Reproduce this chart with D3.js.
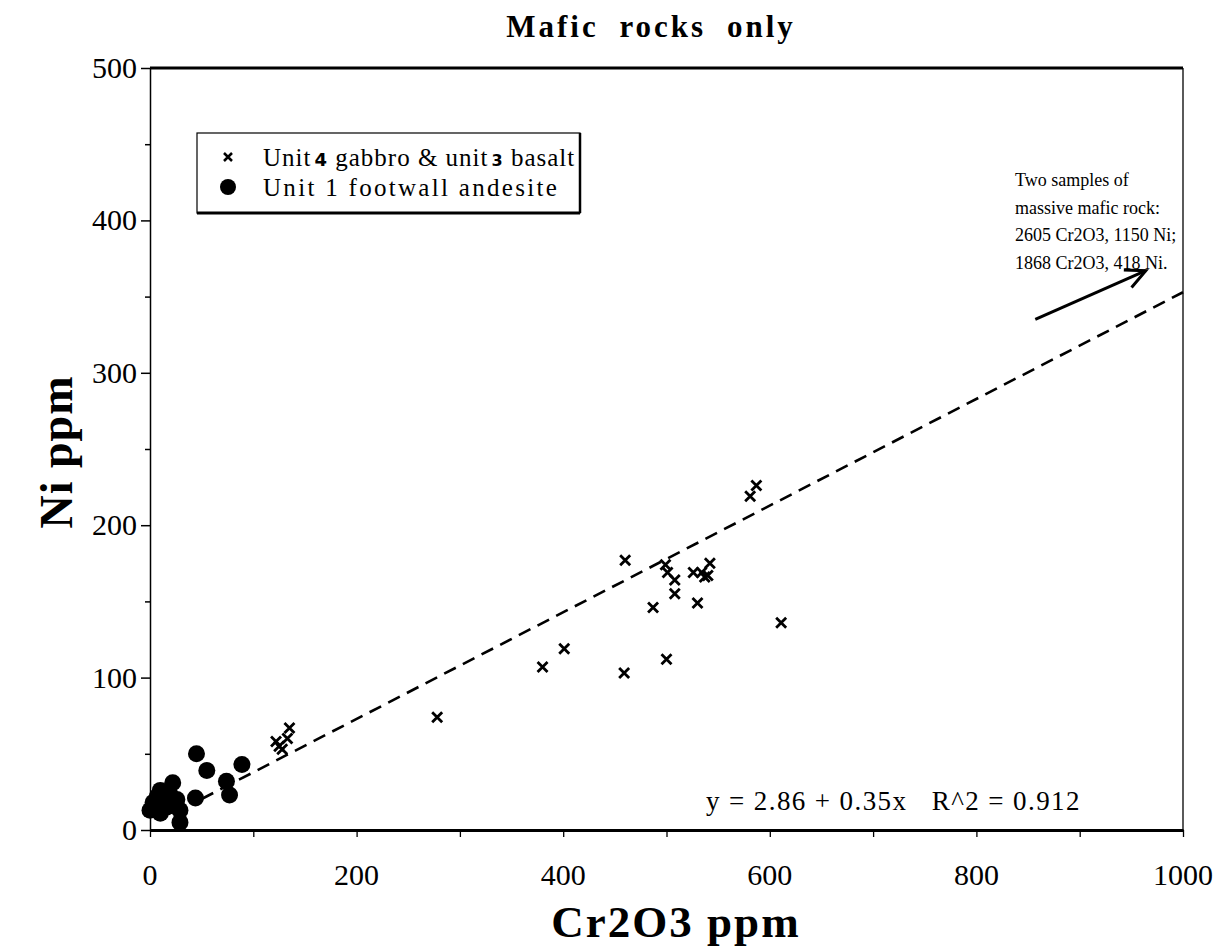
<!DOCTYPE html>
<html>
<head>
<meta charset="utf-8">
<script src="https://cdn.jsdelivr.net/npm/d3@7"></script>
<style>
  body { margin: 0; background: #fff; }
  svg { display: block; }
</style>
</head>
<body>
<svg id="chart"></svg>
<script>
// Unit 4 gabbro & unit 3 basalt  [Cr2O3 ppm, Ni ppm]
const gabbroBasalt = [
  [122, 58], [125, 55], [128, 53], [133, 60], [135, 67],
  [278, 74],
  [380, 107], [401, 119],
  [459, 103], [460, 177],
  [487, 146],
  [499, 174], [500, 112], [501, 169], [508, 164], [508, 155],
  [526, 169], [530, 149], [534, 169], [537, 166], [540, 167], [542, 175],
  [581, 219], [587, 226],
  [611, 136]
];

// Unit 1 footwall andesite
const andesite = [
  [0, 13], [3, 18], [7, 22], [10, 26], [10, 11], [16, 15],
  [19, 24], [22, 31], [26, 20], [29, 13], [29, 5],
  [44, 21], [45, 50], [55, 39], [74, 32], [77, 23], [89, 43]
];

const xTicks = [0, 200, 400, 600, 800, 1000];
const yTicks = [0, 100, 200, 300, 400, 500];
const fit = { intercept: 2.86, slope: 0.35, r2: 0.912, from: 50, to: 1000 };
const noteLines = [
  "Two samples of",
  "massive mafic rock:",
  "2605 Cr2O3, 1150 Ni;",
  "1868 Cr2O3, 418 Ni."
];
const arrowFrom = [857, 335];
const arrowTo = [964, 367];

const width = 1227;
const height = 950;
const serif = "'Liberation Serif', 'Times New Roman', serif";

const svg = d3.select("#chart")
  .attr("width", width)
  .attr("height", height);

const x = d3.scaleLinear().domain([0, 1000]).range([150, 1183]);
const y = d3.scaleLinear().domain([0, 500]).range([830, 68]);

// frame
svg.append("line")
  .attr("x1", x(0)).attr("x2", x(1000))
  .attr("y1", y(500)).attr("y2", y(500))
  .attr("stroke", "#000").attr("stroke-width", 3);
svg.append("line")
  .attr("x1", x(1000)).attr("x2", x(1000))
  .attr("y1", y(500)).attr("y2", y(0))
  .attr("stroke", "#000").attr("stroke-width", 1.3);

// y axis
const yAxis = d3.axisLeft(y)
  .tickValues(d3.range(0, 501, 50))
  .tickSize(0)
  .tickFormat("");
const yAxisG = svg.append("g")
  .attr("transform", `translate(${x(0)},0)`)
  .call(yAxis);
yAxisG.select(".domain").attr("stroke-width", 1.5);
yAxisG.selectAll(".tick line")
  .attr("x1", d => d % 100 === 0 ? -9 : -5)
  .attr("x2", 1)
  .attr("stroke-width", 1.5);
svg.append("g").selectAll("text")
  .data(yTicks)
  .enter()
  .append("text")
  .attr("x", x(0) - 13)
  .attr("y", d => y(d) + 10)
  .attr("text-anchor", "end")
  .style("font-family", serif)
  .style("font-size", "30px")
  .text(d => d);

// x axis
const xAxis = d3.axisBottom(x)
  .tickValues(d3.range(0, 1001, 100))
  .tickSize(0)
  .tickFormat("");
const xAxisG = svg.append("g")
  .attr("transform", `translate(0,${y(0)})`)
  .call(xAxis);
xAxisG.select(".domain").attr("stroke-width", 3.2);
xAxisG.selectAll(".tick line")
  .attr("y2", 7)
  .attr("stroke-width", 1.3);
svg.append("g").selectAll("text")
  .data(xTicks)
  .enter()
  .append("text")
  .attr("x", d => x(d))
  .attr("y", 885)
  .attr("text-anchor", "middle")
  .style("font-family", serif)
  .style("font-size", "30px")
  .text(d => d);

// titles
svg.append("text")
  .attr("x", 651)
  .attr("y", 37)
  .attr("text-anchor", "middle")
  .style("font-family", serif)
  .style("font-weight", "bold")
  .style("font-size", "31px")
  .style("letter-spacing", "3px")
  .style("word-spacing", "10px")
  .text("Mafic rocks only");

svg.append("text")
  .attr("x", 676)
  .attr("y", 937)
  .attr("text-anchor", "middle")
  .style("font-family", serif)
  .style("font-weight", "bold")
  .style("font-size", "45px")
  .style("letter-spacing", "2px")
  .text("Cr2O3 ppm");

svg.append("text")
  .attr("transform", `translate(72,${452}) rotate(-90)`)
  .attr("text-anchor", "middle")
  .style("font-family", serif)
  .style("font-weight", "bold")
  .style("font-size", "46px")
  .style("letter-spacing", "1px")
  .text("Ni ppm");

// regression line
const line = d3.line()
  .x(d => x(d))
  .y(d => y(fit.intercept + fit.slope * d));
svg.append("path")
  .datum([fit.from, fit.to])
  .attr("fill", "none")
  .attr("stroke", "#000")
  .attr("stroke-width", 2.6)
  .attr("stroke-dasharray", "13,8")
  .attr("d", line);

// markers
const crossPath = s => `M${-s},${-s}L${s},${s}M${-s},${s}L${s},${-s}`;

svg.append("g").selectAll("circle")
  .data(andesite)
  .enter()
  .append("circle")
  .attr("cx", d => x(d[0]))
  .attr("cy", d => y(d[1]))
  .attr("r", 8.5)
  .attr("fill", "#000");

svg.append("g").selectAll("path")
  .data(gabbroBasalt)
  .enter()
  .append("path")
  .attr("transform", d => `translate(${x(d[0])},${y(d[1])})`)
  .attr("d", crossPath(5))
  .attr("stroke", "#000")
  .attr("stroke-width", 2.8)
  .attr("fill", "none");

// legend
const legend = svg.append("g").attr("transform", "translate(197,133)");
legend.append("rect")
  .attr("x", 0).attr("y", 0)
  .attr("width", 383).attr("height", 80)
  .attr("fill", "#fff")
  .attr("stroke", "#000")
  .attr("stroke-width", 1.2);
legend.append("line")
  .attr("x1", 0).attr("x2", 383).attr("y1", 80).attr("y2", 80)
  .attr("stroke", "#000").attr("stroke-width", 3);
legend.append("line")
  .attr("x1", 383).attr("x2", 383).attr("y1", 0).attr("y2", 80)
  .attr("stroke", "#000").attr("stroke-width", 2.5);
legend.append("path")
  .attr("transform", "translate(31,24)")
  .attr("d", crossPath(4))
  .attr("stroke", "#000")
  .attr("stroke-width", 2.5);
legend.append("circle")
  .attr("cx", 31).attr("cy", 54).attr("r", 8)
  .attr("fill", "#000");

const row1 = legend.append("text")
  .attr("x", 66).attr("y", 33)
  .style("font-family", serif)
  .style("font-size", "25px")
  .style("letter-spacing", "1px");
row1.append("tspan").text("Unit");
row1.append("tspan").attr("dx", 3).style("font-family", "'DejaVu Sans', sans-serif")
  .style("font-weight", "bold").style("font-size", "18px").text("4");
row1.append("tspan").text(" gabbro & unit");
row1.append("tspan").attr("dx", 3).style("font-family", "'DejaVu Sans', sans-serif")
  .style("font-weight", "bold").style("font-size", "16px").text("3");
row1.append("tspan").text(" basalt");

legend.append("text")
  .attr("x", 66).attr("y", 63)
  .style("font-family", serif)
  .style("font-size", "25px")
  .style("letter-spacing", "2.3px")
  .text("Unit 1 footwall andesite");

// annotation
svg.append("g").selectAll("text")
  .data(noteLines)
  .enter()
  .append("text")
  .attr("x", 1015)
  .attr("y", (d, i) => 186 + i * 27.5)
  .style("font-family", serif)
  .style("font-size", "18px")
  .text(d => d);

const ax1 = x(arrowFrom[0]), ay1 = y(arrowFrom[1]);
const ax2 = x(arrowTo[0]), ay2 = y(arrowTo[1]);
const ang = Math.atan2(ay2 - ay1, ax2 - ax1);
svg.append("line")
  .attr("x1", ax1).attr("y1", ay1).attr("x2", ax2).attr("y2", ay2)
  .attr("stroke", "#000").attr("stroke-width", 3);
const head = 22, spread = 0.45;
svg.append("path")
  .attr("d", `M${ax2 - head * Math.cos(ang - spread)},${ay2 - head * Math.sin(ang - spread)}` +
             `L${ax2},${ay2}` +
             `L${ax2 - head * Math.cos(ang + spread)},${ay2 - head * Math.sin(ang + spread)}`)
  .attr("fill", "none")
  .attr("stroke", "#000")
  .attr("stroke-width", 3);

// equation
svg.append("text")
  .attr("x", 706)
  .attr("y", 810)
  .style("font-family", serif)
  .style("font-size", "27px")
  .style("letter-spacing", "1.4px")
  .style("white-space", "pre")
  .text(`y = ${fit.intercept} + ${fit.slope}x   R^2 = ${fit.r2}`);
</script>
</body>
</html>
